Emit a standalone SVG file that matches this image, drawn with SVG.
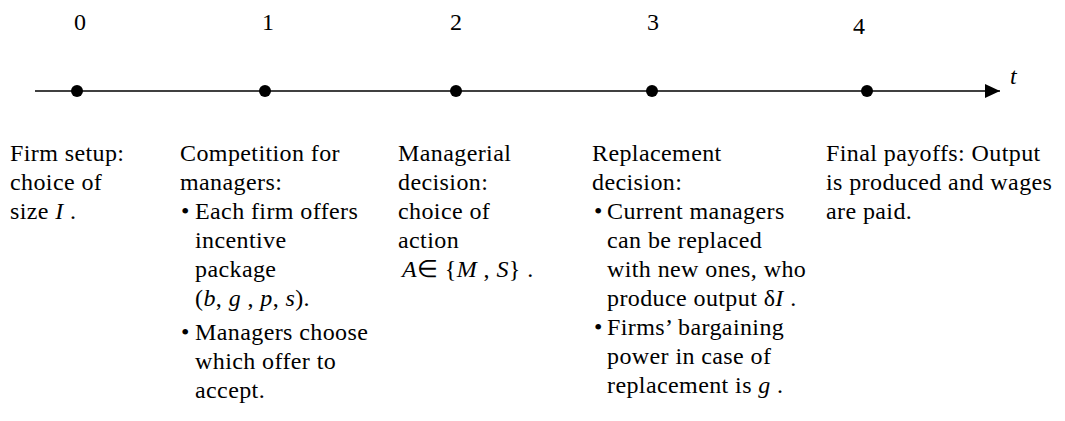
<svg xmlns="http://www.w3.org/2000/svg" width="1065" height="421" viewBox="0 0 1065 421">
<style>
text{font-family:"Liberation Serif","Times New Roman",serif;font-size:24px;fill:#000;letter-spacing:0.4px}
.i{font-style:italic}
.num{letter-spacing:0}
</style>
<defs>
<marker id="arr" markerWidth="16" markerHeight="14" refX="15" refY="7" orient="auto" markerUnits="userSpaceOnUse">
<path d="M0,0 L15,7 L0,14 Z" fill="#000"/>
</marker>
</defs>
<rect width="1065" height="421" fill="#fff"/>
<g id="connectors">
<line x1="35" y1="91" x2="1000" y2="91" stroke="#000" stroke-width="1.5" marker-end="url(#arr)"/>
</g>
<g id="t0"><circle cx="77" cy="91" r="6"/><text class="num" x="80" y="30" text-anchor="middle">0</text></g>
<g id="t1"><circle cx="265" cy="91" r="6"/><text class="num" x="268" y="30" text-anchor="middle">1</text></g>
<g id="t2"><circle cx="456" cy="91" r="6"/><text class="num" x="456" y="30" text-anchor="middle">2</text></g>
<g id="t3"><circle cx="652" cy="91" r="6"/><text class="num" x="653" y="30" text-anchor="middle">3</text></g>
<g id="t4"><circle cx="867" cy="91" r="6"/><text class="num" x="859" y="34" text-anchor="middle">4</text></g>
<g id="axislabel"><text class="i num" x="1010" y="84">t</text></g>
<g id="n0">
<text x="10" y="161">Firm setup:</text>
<text x="10" y="190">choice of</text>
<text x="10" y="219">size <tspan class="i">I</tspan> .</text>
</g>
<g id="n1">
<text x="180" y="161">Competition for</text>
<text x="180" y="190">managers:</text>
<text x="181" y="219">•</text>
<text x="195" y="219">Each firm offers</text>
<text x="195" y="248">incentive</text>
<text x="195" y="277">package</text>
<text x="195" y="306">(<tspan class="i">b</tspan>, <tspan class="i">g</tspan> , <tspan class="i">p</tspan>, <tspan class="i">s</tspan>).</text>
<text x="181" y="340">•</text>
<text x="195" y="340">Managers choose</text>
<text x="195" y="369">which offer to</text>
<text x="195" y="398">accept.</text>
</g>
<g id="n2">
<text x="398" y="161">Managerial</text>
<text x="398" y="190">decision:</text>
<text x="398" y="219">choice of</text>
<text x="398" y="248">action</text>
<text x="402" y="277"><tspan class="i">A</tspan>∈ {<tspan class="i">M</tspan> , <tspan class="i">S</tspan>} .</text>
</g>
<g id="n3">
<text x="592" y="161">Replacement</text>
<text x="592" y="190">decision:</text>
<text x="594" y="219">•</text>
<text x="607" y="219">Current managers</text>
<text x="607" y="248">can be replaced</text>
<text x="607" y="277">with new ones, who</text>
<text x="607" y="306">produce output δ<tspan class="i">I</tspan> .</text>
<text x="594" y="335">•</text>
<text x="607" y="335">Firms’ bargaining</text>
<text x="607" y="364">power in case of</text>
<text x="607" y="393">replacement is  <tspan class="i">g</tspan> .</text>
</g>
<g id="n4">
<text x="826" y="161">Final payoffs: Output</text>
<text x="826" y="190">is produced and wages</text>
<text x="826" y="219">are paid.</text>
</g>
</svg>
